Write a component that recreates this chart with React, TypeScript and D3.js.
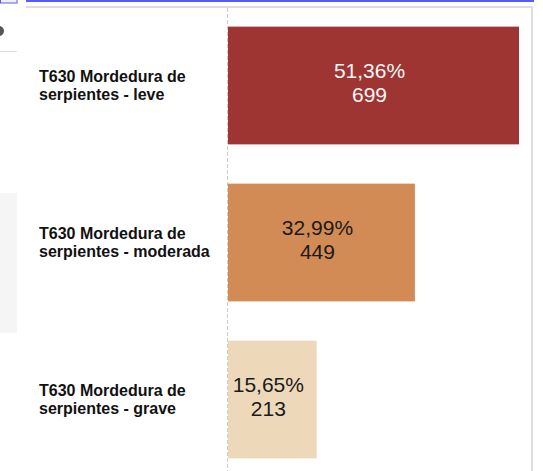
import React from "react";
import * as d3 from "d3";

const categories = [
  "T630 Mordedura de serpientes - leve",
  "T630 Mordedura de serpientes - moderada",
  "T630 Mordedura de serpientes - grave",
];
const counts = [699, 449, 213];
const percents = ["51,36%", "32,99%", "15,65%"];
const colors = ["#9E3532", "#D38B55", "#EDD9BA"];
const labelColors = ["#F5F5F5", "#1A1A1A", "#1A1A1A"];

const W = 543;
const H = 471;
const FONT = "'Liberation Sans', Arial, Helvetica, sans-serif";

function wrap(text: string, maxWidth: number, font: string): string[] {
  const canvas = document.createElement("canvas");
  const ctx = canvas.getContext("2d")!;
  ctx.font = font;
  const words = text.split(" ");
  const lines: string[] = [];
  let cur = "";
  for (const w of words) {
    const t = cur ? cur + " " + w : w;
    if (ctx.measureText(t).width > maxWidth && cur) {
      lines.push(cur);
      cur = w;
    } else cur = t;
  }
  if (cur) lines.push(cur);
  return lines;
}

export default function App() {
  const y = d3.scaleBand<string>().domain(categories).range([7, 478]).paddingInner(0.25).paddingOuter(0.125);
  const x = d3.scaleLinear().domain([0, d3.max(counts)!]).range([228, 519]);
  const bw = y.bandwidth();

  return (
    <svg width={W} height={H} style={{ position: "absolute", left: 0, top: 0, background: "#fff" }}>
      {/* surrounding UI fragments */}
      <rect x={0.5} y={-1} width={16.5} height={4} fill="#F0F0F0" stroke="#5A5AF0" strokeWidth={1} />
      <rect x={26} y={0} width={508} height={2} fill="#5A5AF5" />
      <circle cx={-1} cy={31} r={5} fill="#555" />
      <rect x={0} y={51} width={17} height={1} fill="#DDDDDD" />
      <rect x={0} y={193} width={17} height={140} fill="#F5F5F5" />
      <rect x={26} y={6} width={507} height={2} fill="#DDDDDD" />
      <rect x={531} y={6} width={2} height={H} fill="#DDDDDD" />

      {/* axis line */}
      <line x1={227.5} x2={227.5} y1={8} y2={H} stroke="#CCCCCC" strokeWidth={1} strokeDasharray="4,2" />

      {categories.map((c, i) => {
        const y0 = y(c)!;
        const cy = y0 + bw / 2;
        const lines = wrap(c, 185, `bold 16px ${FONT}`);
        const x1 = x(counts[i]);
        const cx = (x(0) + x1) / 2 - 4;
        return (
          <g key={c}>
            <rect x={x(0)} y={y0} width={x1 - x(0)} height={bw} fill={colors[i]} />
            <text fontFamily={FONT} fontWeight="bold" fontSize={16} fill="#111">
              {lines.map((l, k) => (
                <tspan key={k} x={39} y={cy - 4 + k * 18}>{l}</tspan>
              ))}
            </text>
            <text fontFamily={FONT} fontSize={21} fill={labelColors[i]} textAnchor="middle">
              <tspan x={cx} y={cy - 8}>{percents[i]}</tspan>
              <tspan x={cx} y={cy + 16}>{counts[i]}</tspan>
            </text>
          </g>
        );
      })}
    </svg>
  );
}
